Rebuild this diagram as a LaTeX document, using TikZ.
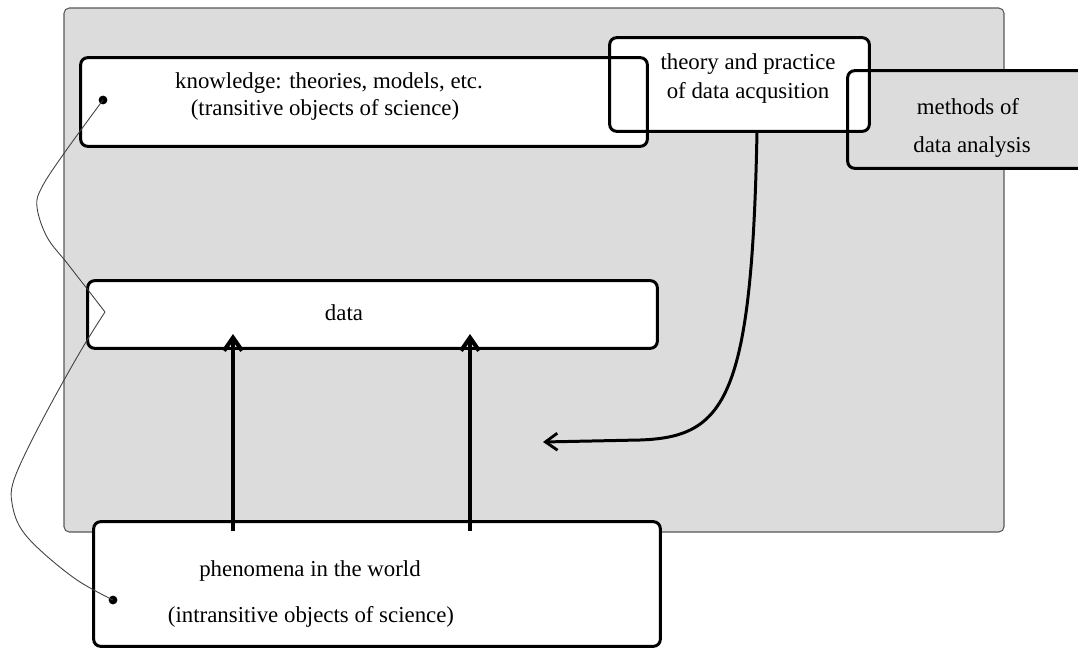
\documentclass[tikz,border=0pt]{standalone}
\usepackage{fontspec}
\setmainfont{Liberation Serif}
\usetikzlibrary{arrows.meta,fit}
\definecolor{bggrey}{HTML}{DCDCDC}
\tikzset{
  fillbox/.style={fill=white, rounded corners=4pt, inner sep=0pt},
  outline/.style={draw=black, line width=1.7pt, rounded corners=4pt},
  txt/.style={font=\fontsize{13}{15}\selectfont, inner sep=0pt, anchor=center},
  bigarr/.style={line width=2.8pt, -{Straight Barb[length=2.6mm,width=3.6mm,line width=2.4pt]}},
  curvarr/.style={line width=1.7pt, -{Straight Barb[length=2.4mm,width=3.4mm,line width=1.6pt]}},
  thin/.style={draw=black!75, line width=0.5pt},
  dot/.style={circle, fill=black, inner sep=0pt, minimum size=5pt}
}
\begin{document}
\begin{tikzpicture}[x=0.02cm, y=-0.02cm]
\useasboundingbox (0,0) rectangle (1078,649);
% background
\draw[fill=bggrey, draw=black!65, line width=0.6pt, rounded corners=3pt] (64,8) rectangle (1004,532);
% box fills
\node[fillbox, fill=bggrey, fit={(848,71) (1090,168)}] (meth) {};
\node[fillbox, fit={(610,38) (869,131)}] (theo) {};
\node[fillbox, fit={(81,58) (647,146)}] (know) {};
\node[fillbox, fit={(88,281) (657,348)}] (data) {};
\node[fillbox, fit={(94,522) (660,646)}] (phen) {};
% outlines
\foreach \n in {meth,theo,know,data,phen}
  \draw[outline] (\n.south west) rectangle (\n.north east);
% texts
\node[txt] (kt1) at (329,83) {knowledge: theories, models, etc.};
\node[txt] (kt2) at (325,110) {(transitive objects of science)};
\node[txt] (tt1) at (748,64) {theory and practice};
\node[txt] (tt2) at (748,93) {of data acqusition};
\node[txt] (mt1) at (968,107) {methods of};
\node[txt] (mt2) at (972,147) {data analysis};
\node[txt] (dt) at (344,313) {data};
\node[txt] (pt1) at (310,571) {phenomena in the world};
\node[txt] (pt2) at (311,617) {(intransitive objects of science)};
% arrows phenomena -> data
\coordinate (a1s) at (233,531);
\coordinate (a1e) at (233,334);
\coordinate (a2s) at (470,531);
\coordinate (a2e) at (470,334);
\draw[bigarr] (a1s) -- (a1e);
\draw[bigarr] (a2s) -- (a2e);
% theory arrow
\coordinate (ts) at (757,131);
\coordinate (te) at (543,442);
\draw[curvarr] (ts) .. controls (752,400) and (725,437) .. (640,440) -- (te);
% thin curve with dots
\node[dot] (kdot) at (103,100) {};
\node[dot] (pdot) at (113,600) {};
\coordinate (apex) at (105,312);
\draw[thin] plot[smooth, tension=0.6] coordinates {(kdot.center) (65,152) (42,187) (37,207) (47,237) (67,263) (88,290) (apex)};
\draw[thin] plot[smooth, tension=0.6] coordinates {(apex) (83,347) (53,400) (27,450) (13,483) (12,503) (20,527) (40,550) (77,580) (pdot.center)};
\end{tikzpicture}
\end{document}
